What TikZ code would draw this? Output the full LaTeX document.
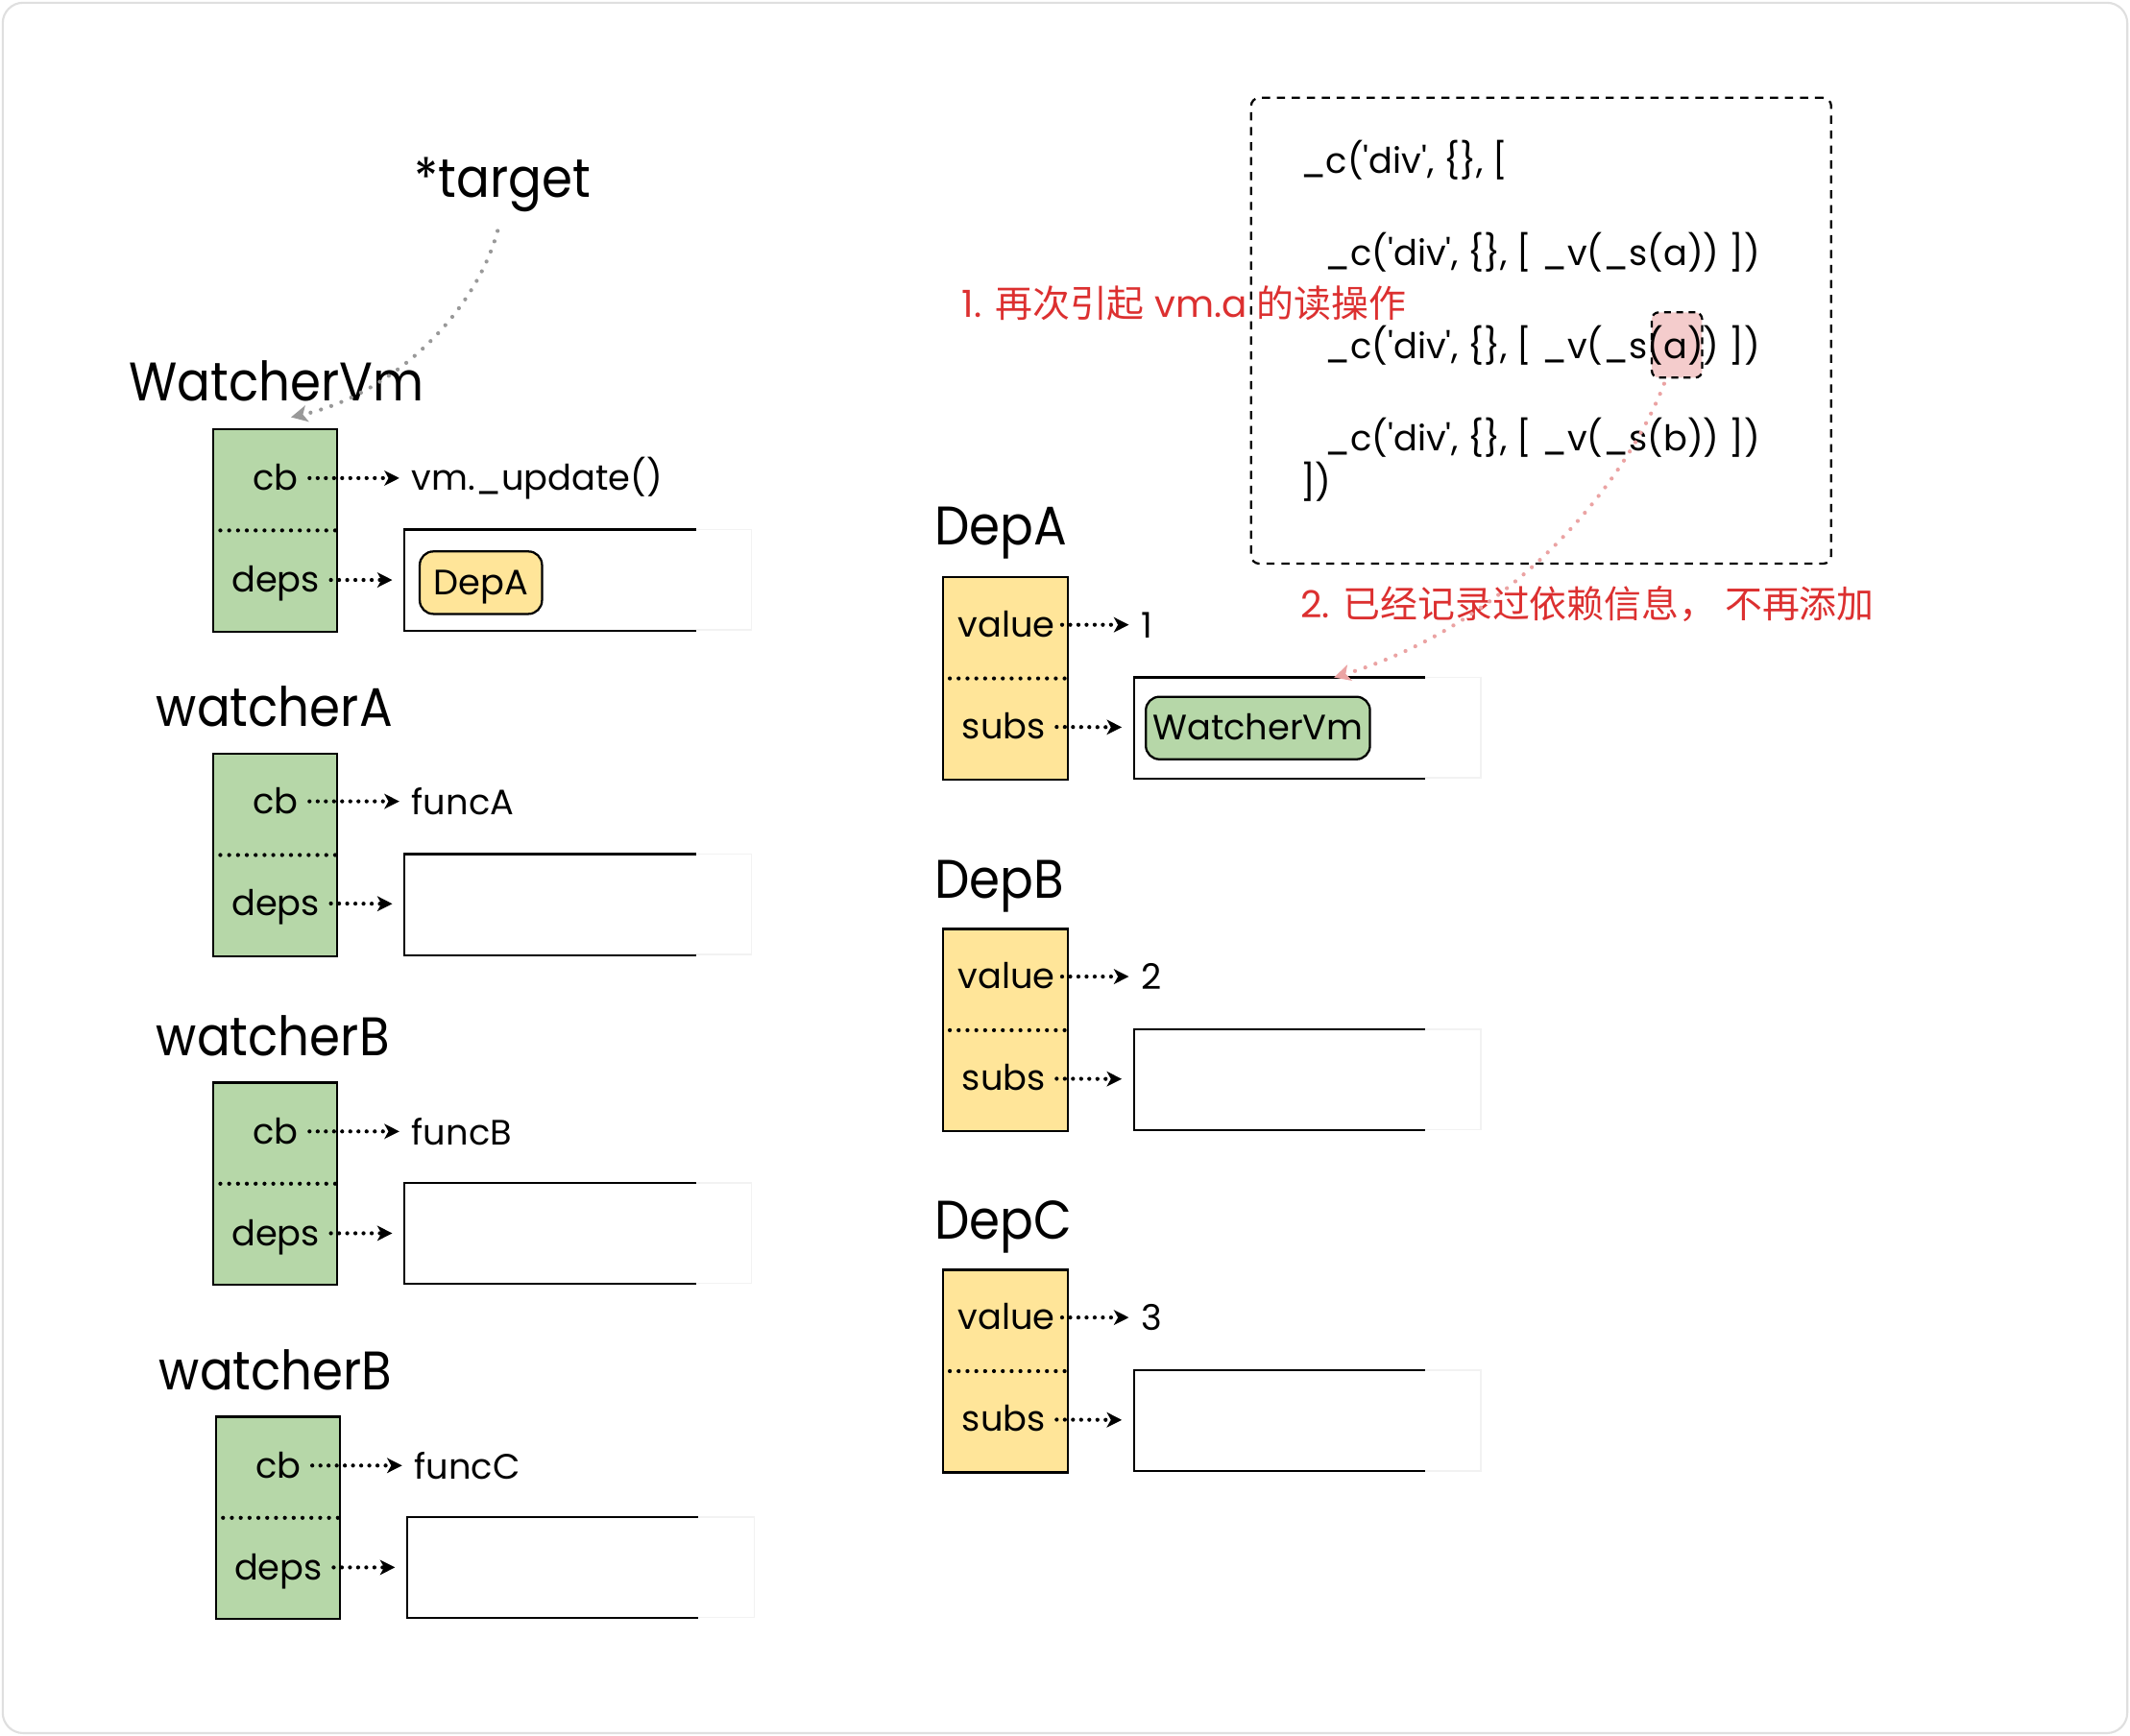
\documentclass[tikz,border=0pt]{standalone}
\usepackage{fontspec}
\setmainfont{Poppins}
\newfontfamily\titlefont{Poppins}[FakeStretch=0.91]
\newfontfamily\cjk{Noto Sans CJK SC}
\usetikzlibrary{positioning}
\usetikzlibrary{arrows.meta}
\usetikzlibrary{backgrounds}
\definecolor{wgreen}{HTML}{B6D7A8}
\definecolor{dyellow}{HTML}{FFE599}
\definecolor{hlpink}{HTML}{F4CCCC}
\definecolor{notered}{HTML}{DC3030}
\definecolor{hintpink}{HTML}{EBA3A3}
\newcommand{\squote}{\textquotesingle}

\begin{document}
\begin{tikzpicture}[x=1pt, y=-1pt,
	title/.style={anchor=base west, inner sep=0, font=\titlefont\fontsize{40}{44}\selectfont},
	field/.style={inner sep=0, font=\fontsize{26}{30}\selectfont, text height=22pt, text depth=4pt},
	codeline/.style={anchor=west, inner sep=0, font=\fontsize{26}{30}\selectfont},
	note/.style={anchor=west, inner sep=0, text=notered, font=\fontsize{27.5}{32}\selectfont},
	wbox/.style={draw, line width=1.6pt, fill=wgreen, minimum width=91pt, minimum height=149pt, inner sep=0},
	dbox/.style={draw, line width=1.6pt, fill=dyellow, minimum width=92pt, minimum height=149pt, inner sep=0},
	slot/.style={minimum width=214pt, minimum height=74pt, inner sep=0},
	slotline/.style={line width=1.6pt},
	slotfade/.style={line width=1.2pt, black!5},
	chip/.style={draw, line width=1.6pt, rounded corners=10pt, minimum height=46pt, field},
	sep/.style={dash pattern=on 0pt off 6.5pt, line cap=round, line width=3pt},
	ptr/.style={dash pattern=on 0pt off 6pt, line cap=round, line width=3pt, -{Stealth[length=11pt,width=11pt,inset=3pt]}, shorten <=8pt, shorten >=9pt},
	hint/.style={dash pattern=on 0pt off 8pt, line cap=round, line width=3pt, -{Stealth[length=12pt,width=12pt,inset=3pt]}},
	codebox/.style={draw, dash pattern=on 6pt off 5pt, line width=1.6pt, rounded corners=6pt, minimum width=427pt, minimum height=343pt}]
	\useasboundingbox (0,0) rectangle (1568,1278);

	% watchers
	\node[title] (target) at (305,145.5) {*target};
	\node[title] (tw0) at (95,295) {WatcherVm};
	\node[wbox] (w0) at (202.5,390.5) {};
	\draw[sep] ([xshift=6pt]w0.west) -- (w0.east);
	\node[field] (cb0) at (203,352) {cb};
	\node[field] (dp0) at (203,427) {deps};
	\node[codeline] (f0) at (303,352) {vm.\_update()};
	\node[slot] (l0) at (405,427) {};
	\node[chip, fill=dyellow, minimum width=90pt] (depa) at (354,429) {DepA};

	\node[title] (tw1) at (115,535) {watcherA};
	\node[wbox] (w1) at (202.5,629.5) {};
	\draw[sep] ([xshift=6pt]w1.west) -- (w1.east);
	\node[field] (cb1) at (203,590) {cb};
	\node[field] (dp1) at (203,665) {deps};
	\node[codeline] (f1) at (303,590) {funcA};
	\node[slot] (l1) at (405,666) {};

	\node[title] (tw2) at (115,777) {watcherB};
	\node[wbox] (w2) at (202.5,871.5) {};
	\draw[sep] ([xshift=6pt]w2.west) -- (w2.east);
	\node[field] (cb2) at (203,833) {cb};
	\node[field] (dp2) at (203,908) {deps};
	\node[codeline] (f2) at (303,833) {funcB};
	\node[slot] (l2) at (405,908) {};

	\node[title] (tw3) at (117,1023) {watcherB};
	\node[wbox] (w3) at (204.5,1117.5) {};
	\draw[sep] ([xshift=6pt]w3.west) -- (w3.east);
	\node[field] (cb3) at (205,1079) {cb};
	\node[field] (dp3) at (205,1154) {deps};
	\node[codeline] (f3) at (305,1079) {funcC};
	\node[slot] (l3) at (407,1154) {};

	% deps
	\node[title] (tda) at (688,401.5) {DepA};
	\node[dbox] (da) at (740,499.5) {};
	\draw[sep] ([xshift=6pt]da.west) -- (da.east);
	\node[field] (va) at (741,460) {value};
	\node[field] (sa) at (739,535) {subs};
	\node[codeline] (na) at (840,460) {1};
	\node[slot] (la) at (942,536) {};
	\node[chip, fill=wgreen, minimum width=165pt] (wvm) at (926,536) {WatcherVm};

	\node[title] (tdb) at (688,661.5) {DepB};
	\node[dbox] (db) at (740,758.5) {};
	\draw[sep] ([xshift=6pt]db.west) -- (db.east);
	\node[field] (vb) at (741,719) {value};
	\node[field] (sb) at (739,794) {subs};
	\node[codeline] (nb) at (840,719) {2};
	\node[slot] (lb) at (942,795) {};

	\node[title] (tdc) at (688,912.5) {DepC};
	\node[dbox] (dc) at (740,1009.5) {};
	\draw[sep] ([xshift=6pt]dc.west) -- (dc.east);
	\node[field] (vc) at (741,970) {value};
	\node[field] (sc) at (739,1045) {subs};
	\node[codeline] (nc) at (840,970) {3};
	\node[slot] (lc) at (942,1046) {};

	% open list slots
	\foreach \s in {l0,l1,l2,l3,la,lb,lc}{
		\draw[slotline] (\s.north east) -- (\s.north west) -- (\s.south west) -- (\s.south east);
		\draw[slotfade] (\s.north east) -- ++(41,0) -- ++(0,74) -- ++(-41,0);
	}

	% pointers
	\draw[ptr] (cb0) -- (f0);
	\draw[ptr] (dp0) -- (l0);
	\draw[ptr] (cb1) -- (f1);
	\draw[ptr] (dp1) -- (l1);
	\draw[ptr] (cb2) -- (f2);
	\draw[ptr] (dp2) -- (l2);
	\draw[ptr] (cb3) -- (f3);
	\draw[ptr] (dp3) -- (l3);
	\draw[ptr, shorten <=5pt] (va) -- (na);
	\draw[ptr] (sa) -- (la);
	\draw[ptr, shorten <=5pt] (vb) -- (nb);
	\draw[ptr] (sb) -- (lb);
	\draw[ptr, shorten <=5pt] (vc) -- (nc);
	\draw[ptr] (sc) -- (lc);

	% render code
	\node[codebox] (code) at (1134.5,243.5) {};
	\node[codeline] (c1) at (957,118) {\_c(\squote div\squote, \{\}, [};
	\node[codeline] (c2) at (975,186) {\_c(\squote div\squote, \{\}, [ \_v(\_s(a)) ])};
	\node[codeline] (c3) at (975,254) {\_c(\squote div\squote, \{\}, [ \_v(\_s(a)) ])};
	\node[codeline] (c4) at (975,322) {\_c(\squote div\squote, \{\}, [ \_v(\_s(b)) ])};
	\node[codeline] (c5) at (957,355) {])};
	\begin{scope}[on background layer]
		\draw[gray!25, fill=white, line width=1.5pt, rounded corners=15pt] (2,2) rectangle (1566,1276);
		\node[draw, dash pattern=on 5pt off 4pt, line width=1.6pt, fill=hlpink, rounded corners=5pt, minimum width=37pt, minimum height=48pt] (hl) at (1234.5,254) {};
	\end{scope}

	\node[note] (n1) at (708,223) {1. {\cjk 再次引起} vm.a {\cjk 的读操作}};
	\node[note] (n2) at (957,445) {2. {\cjk 已经记录过依赖信息，\ 不再添加}};

	\draw[hint, black!40, shorten <=14pt] (target.south) .. controls (350,230) and (290,290) .. ([xshift=58pt, yshift=8pt]w0.north west);
	\draw[hint, hintpink, shorten <=4pt] ([xshift=-8pt]hl.south) .. controls (1195,360) and (1110,460) .. ([xshift=40pt]la.north);
\end{tikzpicture}
\end{document}
